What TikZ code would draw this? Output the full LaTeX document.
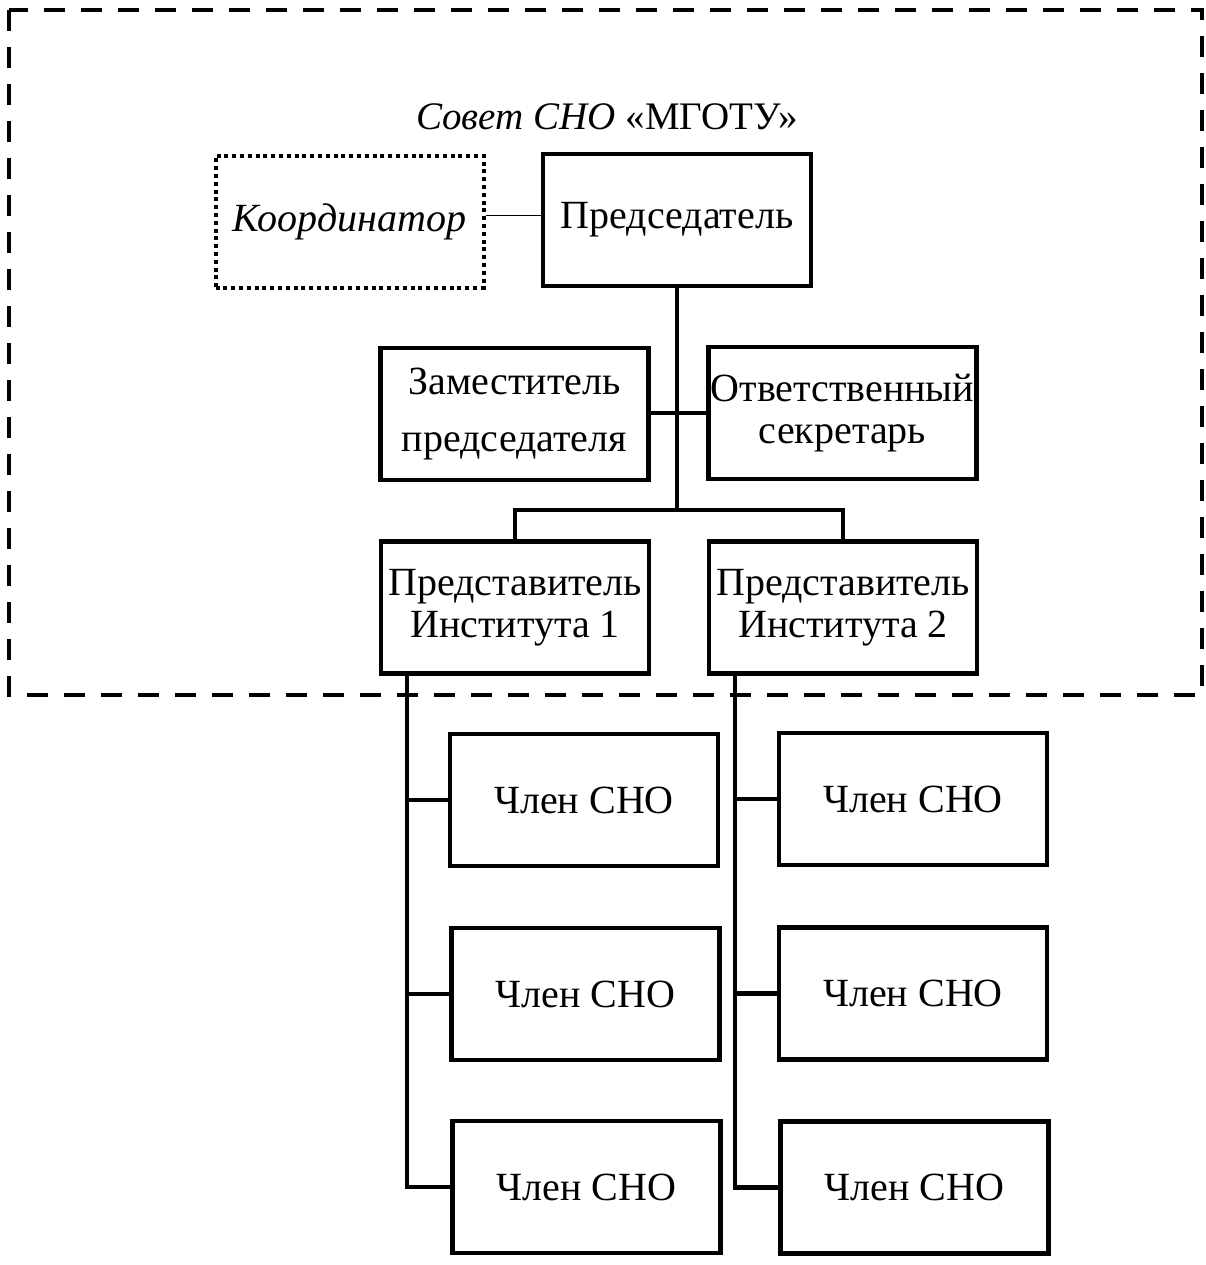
\documentclass[tikz,border=0pt]{standalone}
\usepackage{fontspec}
\setmainfont{Liberation Serif}
\begin{document}
\begin{tikzpicture}[x=0.5pt,y=-0.5pt,
  box/.style={draw,line width=2.2pt,minimum width=134pt,minimum height=66pt,inner sep=0pt,align=center,font=\fontsize{20pt}{21pt}\selectfont},
  dotbox/.style={box,line width=2pt,dash pattern=on 2pt off 1.9pt},
  conn/.style={line width=2.2pt},
  thinconn/.style={line width=0.8pt},
  frame/.style={line width=2.2pt,dash pattern=on 10.5pt off 8pt}
]
\useasboundingbox (0,0) rectangle (1206,1265);
\draw[frame] (9,10) rectangle (1202,695);
\node[font=\fontsize{19.5pt}{24pt}\selectfont] (title) at (607,117) {\textit{Совет СНО} «МГОТУ»};

\node[dotbox] (koord) at (349.5,221.5) {\textit{Координатор}};
\node[box] (pred) at (677,220) {Председатель};
\node[box,font=\fontsize{20pt}{28.5pt}\selectfont] (zam) at (514.5,414) {Заместитель\\председателя};
\node[box] (otv) at (842.5,413) {Ответственный\\секретарь};
\node[box] (i1) at (515,607.5) {Представитель\\Института 1};
\node[box] (i2) at (843,607.5) {Представитель\\Института 2};

\node[box] (m11) at (584,800) {Член СНО};
\node[box] (m12) at (585.5,994) {Член СНО};
\node[box] (m13) at (586.5,1187) {Член СНО};
\node[box] (m21) at (913,799) {Член СНО};
\node[box] (m22) at (913,993.5) {Член СНО};
\node[box] (m23) at (914.5,1187.5) {Член СНО};

\coordinate (j0) at (678,510);
\coordinate (s1) at ([xshift=14pt]i1.south west);
\coordinate (s2) at ([xshift=14pt]i2.south west);

\draw[thinconn] ([yshift=3pt]koord.east) -- ([yshift=3pt]koord.east -| pred.west);
\draw[conn] (pred.south) -- (pred.south |- j0);
\draw[conn] (otv.west) -- (otv.west -| zam.east);
\draw[conn] (i1.north) |- (j0) -| (i2.north);

\draw[conn] (s1) |- (m13.west);
\draw[conn] (s1 |- m11.west) -- (m11.west);
\draw[conn] (s1 |- m12.west) -- (m12.west);
\draw[conn] (s2) |- (m23.west);
\draw[conn] (s2 |- m21.west) -- (m21.west);
\draw[conn] (s2 |- m22.west) -- (m22.west);
\end{tikzpicture}
\end{document}
